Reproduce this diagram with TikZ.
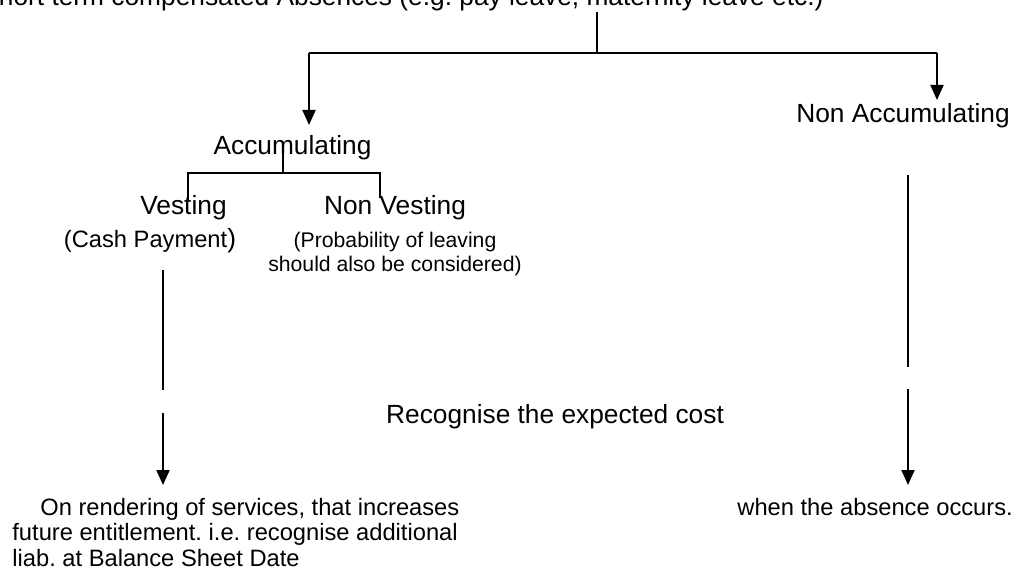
\documentclass[tikz,border=0pt]{standalone}
\usepackage{fontspec}
\setmainfont{Liberation Sans}
\usetikzlibrary{arrows.meta}
\frenchspacing

\newcommand{\bigtxt}{\fontsize{13.15pt}{15pt}\selectfont}
\newcommand{\midtxt}{\fontsize{11.85pt}{12.75pt}\selectfont}
\newcommand{\smalltxt}{\fontsize{10.6pt}{12pt}\selectfont}

\tikzset{
  txt/.style={inner sep=0pt, anchor=base},
  connector/.style={line width=1pt},
  downarrow/.style={line width=1pt, -{Triangle[length=7.5pt,width=6.5pt]}},
}

\begin{document}
\begin{tikzpicture}[x=0.5pt,y=-0.5pt]
\useasboundingbox (0,0) rectangle (1016,571);

% Title
\node[txt, anchor=base west, font=\bigtxt] (title) at (-19,6)
  {Short term compensated Absences (e.g. pay leave, maternity leave etc.)};

% First split
\node[txt, font=\bigtxt] (acc) at (292.5,155) {Accumulating};
\node[txt, font=\bigtxt] (nacc) at (903,123) {Non Accumulating};
\coordinate (top) at (597,53);
\coordinate (lft) at (309,53);
\coordinate (rgt) at (937,53);
\draw[connector] (title.south -| top) -- (top);
\draw[connector] (lft) -- (rgt);
\draw[downarrow] (lft) -- (309,125);
\draw[downarrow] (rgt) -- (937,100);

% Vesting / Non Vesting
\node[txt, font=\bigtxt] (vest) at (183.5,215) {Vesting};
\node[txt, font=\bigtxt] (nvest) at (395,215) {Non Vesting};
\node[txt, font=\midtxt] (cash) at (150,248) {(Cash Payment{\bigtxt )}};
\node[txt, align=center, font=\smalltxt] (prob) at (395,272)
  {(Probability of leaving\\should also be considered)};
\coordinate (split) at (283,173);
\coordinate (vl) at (188,173);
\coordinate (vr) at (380,173);
\draw[connector] (split |- acc.center) -- (split);
\draw[connector] (188,200) -- (vl) -- (vr) -- (380,198);

% Recognition
\node[txt, font=\bigtxt] (recog) at (555,423) {Recognise the expected cost};
\node[txt, anchor=base west, align=left, font=\midtxt] (rend) at (12,566)
  {\hspace*{14pt}On rendering of services, that increases\\future entitlement. i.e. recognise additional\\liab. at Balance Sheet Date};
\node[txt, anchor=base west, font=\midtxt] (absent) at (737,515) {when the absence occurs.};

\coordinate (vtip) at (163,485);
\coordinate (ntip) at (908,485);
\draw[connector] (163,270) -- (163,390);
\draw[downarrow] (163,413) -- (vtip);
\draw[connector] (908,175) -- (908,367);
\draw[downarrow] (908,389) -- (ntip);
\end{tikzpicture}
\end{document}
